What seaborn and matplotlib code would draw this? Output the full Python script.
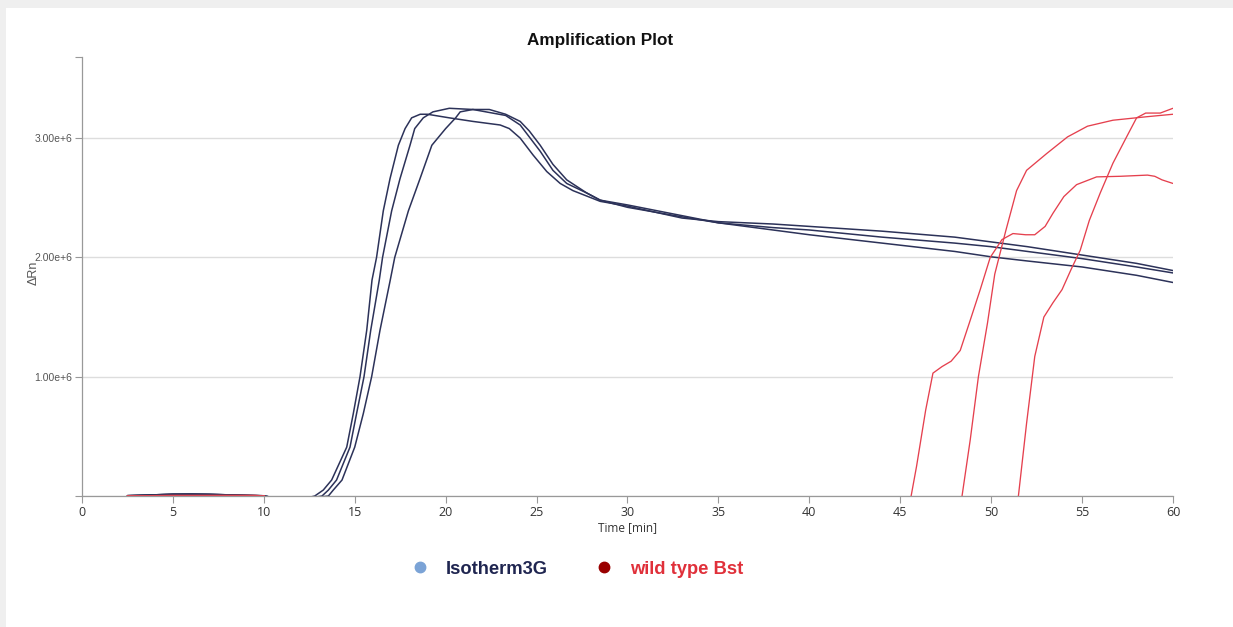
import numpy as np
import pandas as pd
import matplotlib
matplotlib.use("Agg")
import matplotlib.pyplot as plt
from matplotlib.lines import Line2D
from matplotlib.patches import Rectangle
import seaborn as sns

# ---------------- data (values in units of 1e6 dRn) ----------------
base_t = [2.5, 4, 5, 6, 7, 8, 9, 10, 11, 12]
base_v = [0.003, 0.010, 0.015, 0.016, 0.014, 0.010, 0.006, 0.002, -0.03, -0.03]

tail_t = [30, 33, 35, 38, 40, 44, 48, 50, 52, 55, 58, 60]

iso1_t = base_t + [12.8, 13.27, 13.73, 14.56, 14.92, 15.29, 15.66, 15.95, 16.2, 16.57, 16.94, 17.4,
                   17.77, 18.13, 18.6, 19.0, 20.2, 21.5, 23.0, 23.5, 24.1, 24.8, 25.56,
                   26.3, 27.0, 28.5] + tail_t
iso1_v = base_v + [0.0, 0.05, 0.134, 0.41, 0.69, 1.0, 1.39, 1.81, 2.0, 2.39, 2.66, 2.94,
                   3.08, 3.17, 3.2, 3.2, 3.17, 3.14, 3.11, 3.08, 3.0, 2.86, 2.72,
                   2.62, 2.56, 2.47] + \
         [2.43, 2.33, 2.30, 2.28, 2.26, 2.22, 2.17, 2.13, 2.09, 2.02, 1.95, 1.89]

iso2_t = base_t + [13.2, 13.55, 14.0, 14.74, 15.1, 15.51, 15.88, 16.35, 16.53, 17.03, 17.49, 18.04,
                   18.3, 18.77, 19.3, 20.2, 21.5, 23.3, 24.1, 24.6, 25.2, 25.9, 26.66,
                   27.76, 28.5] + tail_t
iso2_v = base_v + [0.0, 0.05, 0.134, 0.41, 0.69, 1.0, 1.39, 1.81, 2.0, 2.39, 2.66, 2.94,
                   3.08, 3.17, 3.22, 3.25, 3.24, 3.19, 3.11, 3.01, 2.89, 2.73, 2.62,
                   2.54, 2.48] + \
         [2.42, 2.34, 2.29, 2.25, 2.23, 2.17, 2.12, 2.09, 2.05, 1.99, 1.92, 1.87]

iso3_t = base_t + [13.55, 13.82, 14.3, 15.0, 15.47, 15.93, 16.39, 16.94, 17.2, 17.95, 18.59, 19.24,
                   20.0, 20.55, 20.8, 21.5, 22.4, 23.3, 24.1, 24.6, 25.2, 25.9, 26.66,
                   27.76, 28.5] + tail_t
iso3_v = base_v + [0.0, 0.05, 0.134, 0.41, 0.69, 1.0, 1.39, 1.8, 2.0, 2.39, 2.66, 2.94,
                   3.08, 3.17, 3.22, 3.24, 3.24, 3.2, 3.14, 3.06, 2.94, 2.78, 2.65,
                   2.54, 2.48] + \
         [2.44, 2.35, 2.29, 2.23, 2.19, 2.12, 2.05, 2.005, 1.97, 1.92, 1.85, 1.79]

rbase_t = [2.5, 5, 8, 9.5, 10, 11]
rbase_v = [0.002, 0.004, 0.004, 0.004, 0.002, -0.1]

wt1_t = rbase_t + [45.2, 45.6, 45.9, 46.4, 46.8, 47.3, 47.8, 48.3, 48.8, 49.4, 49.95, 50.6, 51.2,
                   51.9, 52.4, 52.97, 53.4, 54.0, 54.7, 55.8, 57.1, 58.6, 59.0, 59.4, 60]
wt1_v = rbase_v + [-0.1, 0.0, 0.25, 0.72, 1.03, 1.085, 1.13, 1.22, 1.45, 1.73, 2.0, 2.15, 2.2,
                   2.19, 2.19, 2.26, 2.37, 2.51, 2.61, 2.675, 2.68, 2.69, 2.68, 2.65, 2.62]

wt2_t = rbase_t + [48.0, 48.4, 48.85, 49.3, 49.8, 50.2, 50.8, 51.4, 51.95, 53.05, 54.2, 55.3,
                   56.7, 58.6, 60]
wt2_v = rbase_v + [-0.1, 0.0, 0.47, 1.0, 1.45, 1.86, 2.22, 2.56, 2.73, 2.87, 3.01, 3.1,
                   3.15, 3.18, 3.2]

wt3_t = rbase_t + [51.1, 51.5, 51.95, 52.4, 52.9, 53.4, 53.9, 54.4, 54.9, 55.4, 56.0, 56.7,
                   57.45, 58.0, 58.5, 59.3, 60]
wt3_v = rbase_v + [-0.1, 0.0, 0.61, 1.17, 1.5, 1.62, 1.73, 1.9, 2.06, 2.31, 2.54, 2.79,
                   3.01, 3.17, 3.21, 3.21, 3.25]

series = [("Isotherm3G", "iso1", iso1_t, iso1_v),
          ("Isotherm3G", "iso2", iso2_t, iso2_v),
          ("Isotherm3G", "iso3", iso3_t, iso3_v),
          ("wild type Bst", "wt1", wt1_t, wt1_v),
          ("wild type Bst", "wt2", wt2_t, wt2_v),
          ("wild type Bst", "wt3", wt3_t, wt3_v)]

x_ticks = [0, 5, 10, 15, 20, 25, 30, 35, 40, 45, 50, 55, 60]
y_ticks = [0, 1e6, 2e6, 3e6]
y_labels = ["", "1.00e+6", "2.00e+6", "3.00e+6"]

rows = []
for grp, cid, ts, vs in series:
    for t, v in zip(ts, vs):
        rows.append({"group": grp, "curve": cid, "time": t, "value": v * 1e6})
df = pd.DataFrame(rows)

# ---------------- plotting ----------------
sns.set_theme(style="white")
plt.rcParams["font.family"] = ["Liberation Sans", "DejaVu Sans"]

BLUE = "#2c3259"
RED = "#e5404e"

fig = plt.figure(figsize=(12.33, 6.27), dpi=100)
fig.patch.set_facecolor("#efefef")
fig.patches.append(Rectangle((0.005, 0.0), 0.995, 0.988, transform=fig.transFigure,
                             facecolor="white", edgecolor="none", zorder=-10))

ax = fig.add_axes([0.0665, 0.2089, 0.8848, 0.7002])
ax.set_facecolor("white")

for grp, color, lw in [("Isotherm3G", BLUE, 1.1), ("wild type Bst", RED, 0.95)]:
    sub = df[df["group"] == grp]
    sns.lineplot(data=sub, x="time", y="value", units="curve", estimator=None,
                 color=color, lw=lw, ax=ax, legend=False, sort=False)

ax.set_xlim(0, 60)
ax.set_ylim(0, 3.68e6)

ax.set_xticks(x_ticks)
ax.set_xticklabels([str(v) for v in x_ticks], fontsize=9, color="#333333",
                   family=["Open Sans", "DejaVu Sans"])
ax.set_xticks([10, 20, 30, 40, 50, 60], minor=True)
ax.set_yticks(y_ticks)
ax.set_yticklabels(y_labels, fontsize=7.5, color="#555555")
ax.set_yticks([3.68e6], minor=True)

ax.grid(False)
ax.grid(which="minor", axis="x", color="#dddddd", lw=1.0)
ax.grid(which="major", axis="y", color="#dddddd", lw=1.0)
ax.tick_params(axis="x", which="major", length=5, width=0.8, color="#999999", pad=2, bottom=True)
ax.tick_params(axis="x", which="minor", length=0)
ax.tick_params(axis="y", which="both", length=5, width=0.8, color="#999999", pad=2, left=True)

for side in ["top", "right"]:
    ax.spines[side].set_visible(False)
for side in ["left", "bottom"]:
    ax.spines[side].set_color("#999999")
    ax.spines[side].set_linewidth(0.9)

ax.set_xlabel("Time [min]", fontsize=8.5, color="#333333", labelpad=2,
              family=["Open Sans", "DejaVu Sans"])
ax.set_ylabel("")
fig.text(0.027, 0.565, "ΔRn", rotation=90, fontsize=9, color="#555555",
         ha="center", va="center")

fig.text(0.4866, 0.936, "Amplification Plot", fontsize=12.3, fontweight="bold",
         color="#111111", ha="center", va="center")

handles = [Line2D([], [], ls="none", marker="o", ms=7.5, color="#7ba3d6"),
           Line2D([], [], ls="none", marker="o", ms=7.5, color="#990000")]
leg = fig.legend(handles, ["Isotherm3G", "wild type Bst"], loc="center",
                 bbox_to_anchor=(0.468, 0.0925), ncol=2, frameon=False,
                 handletextpad=0.9, columnspacing=2.6, handlelength=1.0,
                 prop={"weight": "bold", "size": 13.2})
for txt, c in zip(leg.get_texts(), ["#1f2550", "#e0303a"]):
    txt.set_color(c)

fig.savefig("out.png", dpi=100)
